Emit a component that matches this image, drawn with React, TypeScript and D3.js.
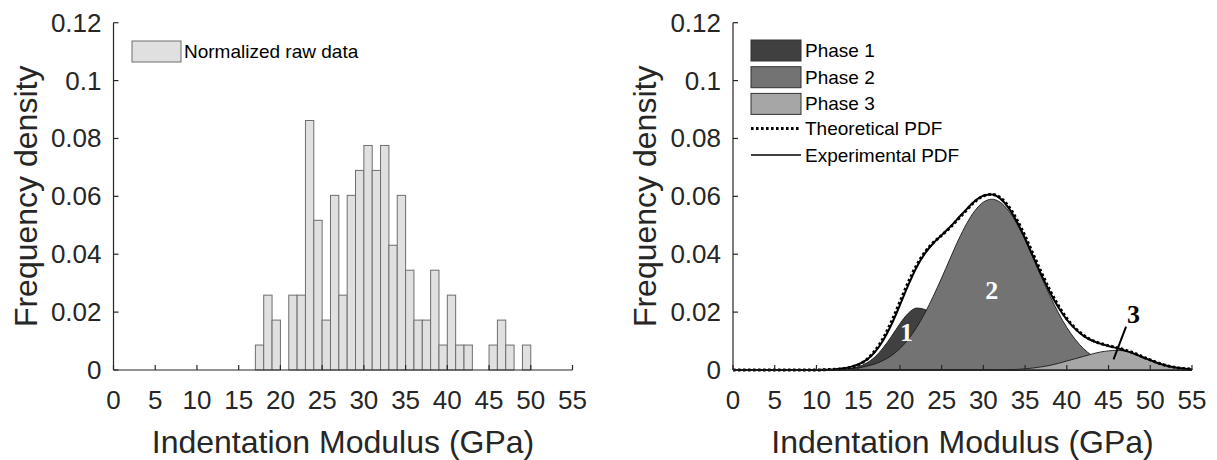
import React from 'react';
import * as d3 from 'd3';

// Axis ticks shared by both panels
const xTicks = [0, 5, 10, 15, 20, 25, 30, 35, 40, 45, 50, 55];
const yTicks = [0, 0.02, 0.04, 0.06, 0.08, 0.1, 0.12];
const yTickLabels = ['0', '0.02', '0.04', '0.06', '0.08', '0.1', '0.12'];

// Left panel: histogram, 1 GPa bins starting at 17 GPa
const binStarts = [17, 18, 19, 20, 21, 22, 23, 24, 25, 26, 27, 28, 29, 30, 31, 32, 33, 34, 35, 36, 37, 38, 39, 40, 41, 42, 43, 44, 45, 46, 47, 48, 49];
const binCounts = [1, 3, 2, 0, 3, 3, 10, 6, 2, 7, 3, 7, 8, 9, 8, 9, 5, 7, 4, 2, 2, 4, 1, 3, 1, 1, 0, 0, 1, 2, 1, 0, 1];
const sampleCount = 116;

// Right panel: deconvolution curves sampled every 1 GPa (0..55)
const modulus = d3.range(0, 56);
const phase1 = [0, 0, 0, 0, 0, 0, 0, 0, 0, 0,
  0.00001, 0.00002, 0.00006, 0.00018, 0.00047, 0.0011, 0.0024, 0.0045, 0.0077, 0.0117,
  0.0160, 0.0196, 0.0214, 0.0209, 0.0183, 0.0143, 0.0100, 0.0063, 0.0035, 0.0018,
  0.0008, 0.0003, 0.0001, 0, 0, 0, 0, 0, 0, 0,
  0, 0, 0, 0, 0, 0, 0, 0, 0, 0,
  0, 0, 0, 0, 0, 0];
const phase2 = [0, 0, 0, 0, 0, 0, 0, 0, 0, 0,
  0.00003, 0.00006, 0.00012, 0.00023, 0.00042, 0.0007, 0.0013, 0.0021, 0.0033, 0.0050,
  0.0074, 0.0106, 0.0147, 0.0197, 0.0255, 0.0318, 0.0384, 0.0449, 0.0506, 0.0551,
  0.0580, 0.0590, 0.0580, 0.0551, 0.0506, 0.0449, 0.0384, 0.0318, 0.0255, 0.0197,
  0.0147, 0.0106, 0.0074, 0.0050, 0.0033, 0.0021, 0.0013, 0.0007, 0.0004, 0.0002,
  0.0001, 0.00006, 0.00003, 0.00001, 0, 0];
const phase3 = [0, 0, 0, 0, 0, 0, 0, 0, 0, 0,
  0, 0, 0, 0, 0, 0, 0, 0, 0, 0,
  0, 0, 0, 0, 0, 0, 0, 0, 0, 0,
  0, 0, 0, 0.0001, 0.0002, 0.0004, 0.0007, 0.0011, 0.0016, 0.0023,
  0.0031, 0.0039, 0.0047, 0.0055, 0.0062, 0.0066, 0.0068, 0.0065, 0.0058, 0.0047,
  0.0035, 0.0024, 0.0015, 0.0009, 0.0005, 0.0003];
const theoretical = [0, 0, 0, 0, 0, 0, 0, 0, 0, 0,
  0, 0.0001, 0.0002, 0.0004, 0.0009, 0.0018, 0.0036, 0.0066, 0.0110, 0.0168,
  0.0235, 0.0303, 0.0362, 0.0407, 0.0440, 0.0465, 0.0492, 0.0522, 0.0553, 0.0582,
  0.0601, 0.0607, 0.0596, 0.0566, 0.0520, 0.0463, 0.0398, 0.0334, 0.0274, 0.0222,
  0.0178, 0.0145, 0.0120, 0.0103, 0.0092, 0.0084, 0.0077, 0.0069, 0.0059, 0.0047,
  0.0035, 0.0024, 0.0015, 0.0009, 0.0005, 0.0003];
const experimental = [0, 0, 0, 0, 0, 0, 0, 0, 0, 0,
  0, 0.0001, 0.0002, 0.0005, 0.0010, 0.0019, 0.0035, 0.0062, 0.0103, 0.0158,
  0.0224, 0.0293, 0.0355, 0.0403, 0.0438, 0.0466, 0.0494, 0.0525, 0.0556, 0.0584,
  0.0602, 0.0606, 0.0593, 0.0561, 0.0513, 0.0455, 0.0390, 0.0326, 0.0267, 0.0216,
  0.0174, 0.0142, 0.0118, 0.0102, 0.0091, 0.0083, 0.0076, 0.0067, 0.0057, 0.0045,
  0.0034, 0.0023, 0.0015, 0.0009, 0.0005, 0.0002];

const phases = [
  { name: 'Phase 1', values: phase1, fill: '#404040', label: '1', labelX: 20.8, labelY: 0.0132 },
  { name: 'Phase 2', values: phase2, fill: '#737373', label: '2', labelX: 31.0, labelY: 0.0275 },
  { name: 'Phase 3', values: phase3, fill: '#a6a6a6', label: '3', labelX: 48.0, labelY: 0.0195 },
];

const W = 1217;
const H = 460;
const FONT = 'Liberation Sans, Arial, Helvetica, sans-serif';
const SERIF = 'Liberation Serif, Times New Roman, serif';
const AX = '#262626';

type Panel = { left: number; right: number; top: number; bottom: number };
const leftPanel: Panel = { left: 113.5, right: 572.5, top: 22.7, bottom: 370 };
const rightPanel: Panel = { left: 733, right: 1192, top: 22.7, bottom: 370 };

const Axes: React.FC<{ p: Panel; x: d3.ScaleLinear<number, number>; y: d3.ScaleLinear<number, number> }> = ({ p, x, y }) => (
  <g>
    <line x1={p.left} x2={p.right} y1={p.bottom} y2={p.bottom} stroke={AX} strokeWidth={1.2} />
    <line x1={p.left} x2={p.left} y1={p.top} y2={p.bottom} stroke={AX} strokeWidth={1.2} />
    {xTicks.map(t => (
      <g key={'x' + t}>
        <line x1={x(t)} x2={x(t)} y1={p.bottom} y2={p.bottom - 5} stroke={AX} strokeWidth={1.2} />
        <text x={x(t)} y={p.bottom + 39} textAnchor="middle" fontSize={26} fill={AX} fontFamily={FONT}>{t}</text>
      </g>
    ))}
    {yTicks.map((t, i) => (
      <g key={'y' + t}>
        <line x1={p.left} x2={p.left + 5} y1={y(t)} y2={y(t)} stroke={AX} strokeWidth={1.2} />
        <text x={p.left - 12} y={y(t) + 9} textAnchor="end" fontSize={26} fill={AX} fontFamily={FONT}>{yTickLabels[i]}</text>
      </g>
    ))}
    <text x={(p.left + p.right) / 2} y={453} textAnchor="middle" fontSize={32} fill={AX} fontFamily={FONT}>
      Indentation Modulus (GPa)
    </text>
    <text transform={`translate(${p.left - 77},${(p.top + p.bottom) / 2}) rotate(-90)`} textAnchor="middle" fontSize={32} fill={AX} fontFamily={FONT}>
      Frequency density
    </text>
  </g>
);

const App: React.FC = () => {
  const xL = d3.scaleLinear().domain([0, 55]).range([leftPanel.left, leftPanel.right]);
  const yL = d3.scaleLinear().domain([0, 0.12]).range([leftPanel.bottom, leftPanel.top]);
  const xR = d3.scaleLinear().domain([0, 55]).range([rightPanel.left, rightPanel.right]);
  const yR = d3.scaleLinear().domain([0, 0.12]).range([rightPanel.bottom, rightPanel.top]);

  const area = (vals: number[]) =>
    d3.area<number>()
      .x((_, i) => xR(modulus[i]))
      .y0(yR(0))
      .y1(d => yR(d))
      .curve(d3.curveMonotoneX)(vals) || '';
  const line = (vals: number[]) =>
    d3.line<number>()
      .x((_, i) => xR(modulus[i]))
      .y(d => yR(d))
      .curve(d3.curveMonotoneX)(vals) || '';

  const legendX = rightPanel.left + 18;

  return (
    <svg width={W} height={H} style={{ position: 'absolute', left: 0, top: 0, background: '#fff' }}>
      {/* Left panel: histogram */}
      {binStarts.map((b, i) => binCounts[i] > 0 && (
        <rect key={b} x={xL(b)} width={xL(b + 1) - xL(b)} y={yL(binCounts[i] / sampleCount)}
          height={yL(0) - yL(binCounts[i] / sampleCount)} fill="#e0e0e0" stroke="#6e6e6e" strokeWidth={1} />
      ))}
      <Axes p={leftPanel} x={xL} y={yL} />
      <rect x={132} y={41} width={49} height={21} fill="#e0e0e0" stroke="#6e6e6e" strokeWidth={1} />
      <text x={184} y={58} fontSize={19} fill="#000" fontFamily={FONT}>Normalized raw data</text>

      {/* Right panel: phases and PDFs */}
      {phases.map(ph => (
        <path key={ph.name} d={area(ph.values)} fill={ph.fill} stroke="#1a1a1a" strokeWidth={0.9} />
      ))}
      <path d={line(experimental)} fill="none" stroke="#000" strokeWidth={2} />
      <path d={line(theoretical)} fill="none" stroke="#000" strokeWidth={3} strokeDasharray="2.6 2.4" />
      <Axes p={rightPanel} x={xR} y={yR} />

      {/* phase labels */}
      <text x={xR(phases[0].labelX)} y={yR(phases[0].labelY) + 9} textAnchor="middle" fontSize={26} fontWeight="bold" fill="#fff" fontFamily={SERIF}>1</text>
      <text x={xR(phases[1].labelX)} y={yR(phases[1].labelY) + 9} textAnchor="middle" fontSize={26} fontWeight="bold" fill="#fff" fontFamily={SERIF}>2</text>
      <text x={xR(phases[2].labelX)} y={yR(phases[2].labelY) + 9} textAnchor="middle" fontSize={26} fontWeight="bold" fill="#000" fontFamily={SERIF}>3</text>
      <line x1={xR(47.1)} y1={yR(0.0150)} x2={xR(45.6)} y2={yR(0.0037)} stroke="#000" strokeWidth={2} />

      {/* legend */}
      {phases.map((ph, i) => (
        <g key={'lg' + ph.name}>
          <rect x={legendX} y={40 + i * 26.7} width={50} height={21} fill={ph.fill} stroke="#333" strokeWidth={1} />
          <text x={legendX + 54} y={57 + i * 26.7} fontSize={19} fill="#000" fontFamily={FONT}>{ph.name}</text>
        </g>
      ))}
      <line x1={legendX} x2={legendX + 50} y1={128.5} y2={128.5} stroke="#000" strokeWidth={3} strokeDasharray="2.6 2.4" />
      <text x={legendX + 54} y={135} fontSize={19} fill="#000" fontFamily={FONT}>Theoretical PDF</text>
      <line x1={legendX} x2={legendX + 50} y1={155} y2={155} stroke="#000" strokeWidth={1.6} />
      <text x={legendX + 54} y={162} fontSize={19} fill="#000" fontFamily={FONT}>Experimental PDF</text>
    </svg>
  );
};

export default App;
